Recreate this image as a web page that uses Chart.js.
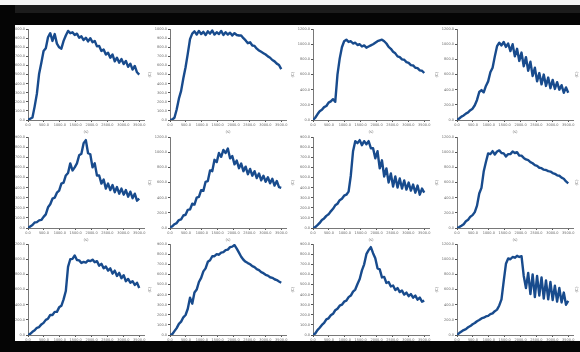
<!DOCTYPE html>
<html>
<head>
<meta charset="utf-8">
<script src="https://cdn.jsdelivr.net/npm/chart.js@4.4.1/dist/chart.umd.min.js"></script>
<style>
  body { margin: 0; width: 580px; height: 352px; position: relative; overflow: hidden; background: #fff; font-family: "DejaVu Sans", sans-serif; }
  .panel { position: absolute; }
  .frame { position: absolute; background: #050505; z-index: 5; }
  .edgeLabel { position: absolute; font-size: 4px; color: #777; transform: rotate(-90deg); z-index: 4; }
</style>
</head>
<body>

<div class="frame" style="left:0;top:0;width:580px;height:5px;background:#f4f4f4"></div>
<div class="frame" style="left:0;top:5px;width:580px;height:8px;background:#1c1c1c"></div>
<div class="frame" style="left:0;top:13px;width:580px;height:12px"></div>
<div class="frame" style="left:0;top:5px;width:15px;height:347px"></div>
<div class="frame" style="left:0;top:341px;width:580px;height:11px"></div>

<span class="edgeLabel" style="left:574px;top:72px">(C)</span>
<span class="edgeLabel" style="left:574px;top:180px">(C)</span>
<span class="edgeLabel" style="left:574px;top:287px">(C)</span>

<script>
// time axis (s), shared by all panels
const timeS = [0,70,140,210,280,350,420,490,560,630,700,770,840,910,980,1050,1120,1190,1260,1330,1400,1470,1540,1610,1680,1750,1820,1890,1960,2030,2100,2170,2240,2310,2380,2450,2520,2590,2660,2730,2800,2870,2940,3010,3080,3150,3220,3290,3360,3430,3500];
const xTicks = [0,500,1000,1500,2000,2500,3000,3500];

// temperature traces (C), left to right, top to bottom
const temp1 = [0,14,28,150,290,510,630,760,790,910,955,870,945,840,800,785,870,930,980,955,965,935,950,905,920,880,905,865,900,855,870,810,815,760,775,720,740,685,720,645,685,630,670,615,650,585,620,555,595,525,500];
const temp2 = [0,5,25,115,235,320,460,580,730,890,950,975,940,980,945,970,935,975,950,985,940,965,945,980,935,965,940,960,930,955,935,930,930,900,875,845,855,820,815,785,765,750,735,720,700,685,660,645,620,605,560];
const temp3 = [0,30,75,115,135,170,185,230,245,275,240,600,810,960,1040,1060,1030,1040,1010,1020,990,1000,970,985,955,970,985,1000,1020,1040,1050,1060,1040,1010,965,940,900,880,840,830,800,795,765,755,725,720,690,685,655,650,620];
const temp4 = [0,20,45,60,85,100,130,150,195,265,370,395,365,450,510,630,690,840,975,1020,985,1030,965,1010,910,1000,840,940,780,890,710,830,650,770,580,690,510,620,470,600,450,560,420,530,410,500,400,460,360,430,360];
const temp5 = [0,15,30,55,58,75,80,110,135,205,235,290,300,350,370,440,450,520,545,640,570,600,640,720,735,840,870,740,730,600,640,520,520,440,480,390,440,375,425,355,405,340,390,330,375,310,360,295,340,270,290];
const temp6 = [10,22,50,65,105,115,165,175,240,245,320,310,400,410,500,490,610,620,760,750,900,870,990,940,1030,990,1050,920,950,840,890,790,850,750,810,710,780,690,750,660,720,630,690,610,670,590,650,560,620,540,530];
const temp7 = [0,8,28,50,80,95,120,135,165,190,225,240,275,290,320,330,360,520,760,860,840,870,820,860,830,860,790,790,690,760,590,670,510,590,450,540,410,510,400,490,390,470,380,450,370,430,350,420,330,390,350];
const temp8 = [0,12,30,50,90,110,150,170,210,295,455,530,745,870,985,975,1015,970,1010,1025,990,985,945,975,975,1010,990,1000,955,955,925,905,895,870,855,830,820,795,790,770,765,750,745,725,715,695,690,665,650,615,590];
const temp9 = [0,15,42,62,95,105,140,160,200,215,265,265,305,305,365,385,470,580,900,1000,1005,1050,990,985,950,965,955,985,975,995,960,975,915,940,880,905,850,880,810,850,780,820,750,790,710,740,690,710,660,690,620];
const temp10 = [0,8,38,68,110,132,175,198,260,370,310,420,450,525,565,630,660,725,740,780,780,800,795,815,820,840,845,870,875,890,855,815,775,745,725,712,700,682,672,652,642,622,612,596,588,572,566,552,544,530,518];
const temp11 = [0,15,48,72,100,120,155,165,195,210,245,260,290,300,330,340,375,390,430,450,505,555,640,700,800,840,870,810,760,660,650,570,575,515,525,480,490,445,465,425,440,400,420,385,405,370,390,350,370,330,340];
const temp12 = [0,25,45,65,78,102,118,142,158,182,198,218,228,245,252,275,285,315,335,390,470,710,940,1010,1000,1030,1020,1045,1030,1040,780,620,820,540,800,500,780,520,760,480,720,470,700,460,650,440,620,430,560,400,450];

// y axis ranges per panel
const yMax = [1000,1000,1200,1200, 900,1200,900,1200, 1200,900,900,1200];
const yStep = [100,100,200,200, 100,200,100,200, 200,100,100,200];

const traces = [temp1,temp2,temp3,temp4,temp5,temp6,temp7,temp8,temp9,temp10,temp11,temp12];

// where each panel's axes sit on the page
const colAxisX = [28, 170, 313, 457];
const rowTop = [29, 137, 244];
const yAxisW = 22, xAxisH = 14, padTop = 3, padRight = 3;
const plotW = 116, plotH = 91;

const tickFont = { family: "DejaVu Sans", size: 3.5 };
const titleFont = { family: "DejaVu Sans", size: 4 };
const axisColor = '#555';

traces.forEach((trace, i) => {
  const col = i % 4;
  const row = Math.floor(i / 4);
  const w = yAxisW + plotW + padRight;
  const h = padTop + plotH + xAxisH;

  const box = document.createElement('div');
  box.className = 'panel';
  box.style.left = (colAxisX[col] - yAxisW) + 'px';
  box.style.top = (rowTop[row] - padTop) + 'px';
  const canvas = document.createElement('canvas');
  canvas.width = w;
  canvas.height = h;
  box.appendChild(canvas);
  document.body.appendChild(box);

  const yTicks = [];
  for (let v = 0; v <= yMax[i]; v += yStep[i]) yTicks.push(v);

  new Chart(canvas.getContext('2d'), {
    type: 'line',
    data: {
      labels: timeS,
      datasets: [{
        data: trace,
        borderColor: '#184b8d',
        borderWidth: 2.4,
        borderJoinStyle: 'round',
        pointRadius: 0,
        tension: 0,
        fill: false
      }]
    },
    options: {
      responsive: false,
      animation: false,
      layout: { padding: { top: padTop, right: padRight, left: 0, bottom: 0 } },
      plugins: { legend: { display: false }, tooltip: { enabled: false } },
      scales: {
        x: {
          type: 'linear',
          min: 0,
          max: 3650,
          afterFit: s => { s.height = xAxisH; },
          afterBuildTicks: s => { s.ticks = xTicks.map(v => ({ value: v })); },
          ticks: {
            autoSkip: false,
            maxRotation: 0,
            padding: 0.5,
            font: tickFont,
            color: '#666',
            callback: v => v.toFixed(1)
          },
          grid: { drawOnChartArea: false, tickLength: 2, color: axisColor },
          border: { color: axisColor, width: 0.8 },
          title: { display: true, text: '(s)', font: titleFont, color: '#777', padding: 0 }
        },
        y: {
          min: 0,
          max: yMax[i],
          afterFit: s => { s.width = yAxisW; },
          afterBuildTicks: s => { s.ticks = yTicks.map(v => ({ value: v })); },
          ticks: {
            autoSkip: false,
            padding: 1,
            font: tickFont,
            color: '#666',
            callback: v => v.toFixed(1)
          },
          grid: { drawOnChartArea: false, tickLength: 2, color: axisColor },
          border: { color: axisColor, width: 0.8 },
          title: { display: true, text: '(C)', font: titleFont, color: '#777', padding: 0 }
        }
      }
    }
  });
});
</script>
</body>
</html>
